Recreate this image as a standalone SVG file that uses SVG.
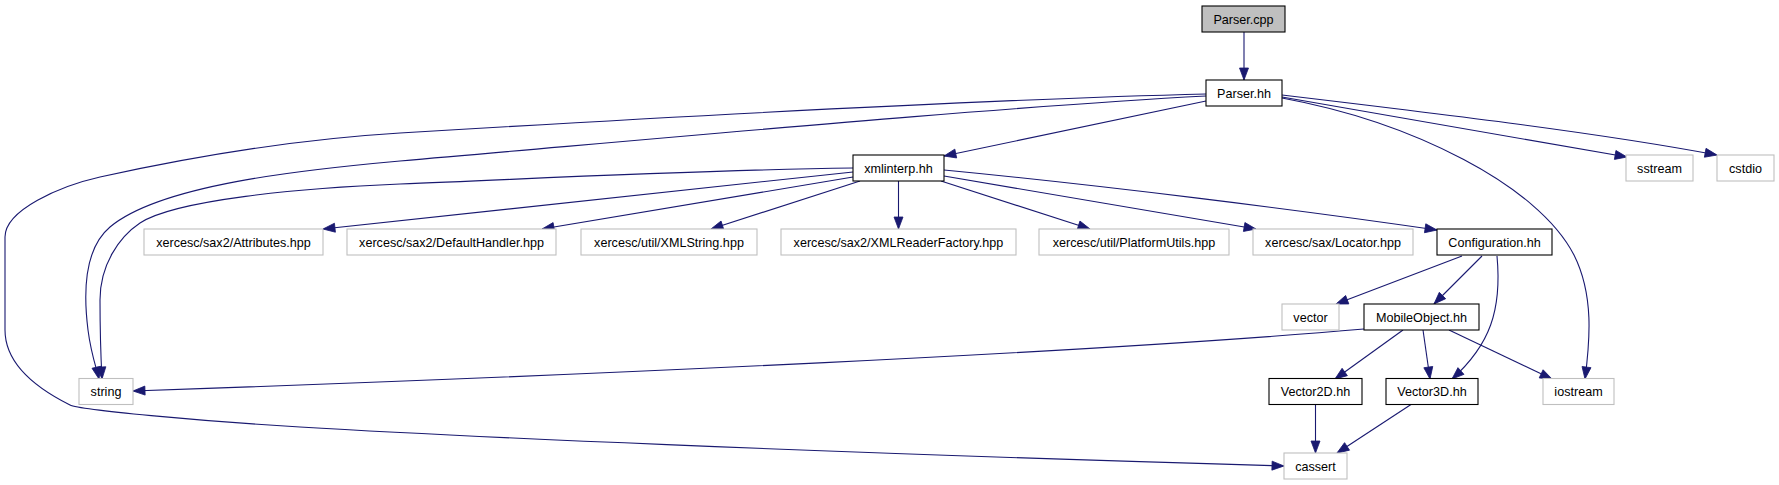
<svg xmlns="http://www.w3.org/2000/svg" width="1779" height="485" viewBox="0 0 1779 485">
<style>
.n rect{fill:#fff;stroke:#000;stroke-width:1.1}
.g rect{fill:#fff;stroke:#bfbfbf;stroke-width:1.1}
.root rect{fill:#bfbfbf;stroke:#000;stroke-width:1.1}
text{font-family:"Liberation Sans",Arial,sans-serif;font-size:12.6px;text-anchor:middle;fill:#000}
#edges path{fill:none;stroke:#191970;stroke-width:1.1;marker-end:url(#ah)}
</style>
<defs>
<marker id="ah" markerWidth="13" markerHeight="10" refX="12" refY="4.5" orient="auto" markerUnits="userSpaceOnUse" overflow="visible">
<path d="M0,0 L12,4.5 L0,9 z" fill="#191970" stroke="#191970" stroke-width="0.8"/>
</marker>
</defs>
<rect width="1779" height="485" fill="#fff"/>
<g id="edges">
<path d="M1244,32 L1244,80"/>
<path d="M1206,101 L944,156"/>
<path d="M1206,96 C1000,107 700,135 400,161 C300,170 160,185 110,227 C85,248 83,290 88,330 C91,354 97,370 99,379"/>
<path d="M1206,94 C1000,99 700,115 400,133 C300,139 200,155 100,177 C60,186 5,210 5,237 L5,330 C5,360 30,385 70,405 C80,410 200,421 300,427 C450,436 800,452 1284,466"/>
<path d="M1282,97 L1627,157"/>
<path d="M1282,95 C1450,115 1600,133 1717,155"/>
<path d="M1282,98 C1412,122 1538,185 1574,255 C1594,295 1590,340 1585,379"/>
<path d="M853,172 L323,229"/>
<path d="M853,177 L542,229"/>
<path d="M860,181 L711,229"/>
<path d="M898.5,181 L898.5,229"/>
<path d="M941,181 L1090,229"/>
<path d="M944,176 L1256,229"/>
<path d="M944,170 C1100,185 1300,210 1437,230"/>
<path d="M853,168 C700,170 550,178 400,184 C300,188 175,200 140,223 C119,237 100,265 100,300 C100,335 101,360 102,379"/>
<path d="M1462,256 L1336,304"/>
<path d="M1482,256 L1434,304"/>
<path d="M1497,256 C1502,310 1490,345 1452,379"/>
<path d="M1364,329 C1100,352 600,375 133,391"/>
<path d="M1403,330 L1335,379"/>
<path d="M1423,330 L1430,379"/>
<path d="M1449,330 L1552,379"/>
<path d="M1315.5,404.5 L1315.5,453"/>
<path d="M1411,404.5 L1337,453"/>
</g>
<g id="n_parser_cpp" class="root"><rect x="1202" y="6" width="83" height="26"/><text x="1243.5" y="23.5">Parser.cpp</text></g>
<g id="n_parser_hh" class="n"><rect x="1206" y="80" width="76" height="26"/><text x="1244" y="97.5">Parser.hh</text></g>
<g id="n_xmlinterp" class="n"><rect x="853" y="155" width="91" height="26"/><text x="898.5" y="172.5">xmlinterp.hh</text></g>
<g id="n_sstream" class="g"><rect x="1626" y="155" width="67" height="26"/><text x="1659.5" y="172.5">sstream</text></g>
<g id="n_cstdio" class="g"><rect x="1717" y="155" width="57" height="26"/><text x="1745.5" y="172.5">cstdio</text></g>
<g id="n_attributes" class="g"><rect x="144" y="229" width="179" height="26"/><text x="233.5" y="246.5">xercesc/sax2/Attributes.hpp</text></g>
<g id="n_defaulthandler" class="g"><rect x="347" y="229" width="209" height="26"/><text x="451.5" y="246.5">xercesc/sax2/DefaultHandler.hpp</text></g>
<g id="n_xmlstring" class="g"><rect x="581" y="229" width="176" height="26"/><text x="669" y="246.5">xercesc/util/XMLString.hpp</text></g>
<g id="n_xmlreaderfactory" class="g"><rect x="781" y="229" width="235" height="26"/><text x="898.5" y="246.5">xercesc/sax2/XMLReaderFactory.hpp</text></g>
<g id="n_platformutils" class="g"><rect x="1039" y="229" width="190" height="26"/><text x="1134" y="246.5">xercesc/util/PlatformUtils.hpp</text></g>
<g id="n_locator" class="g"><rect x="1253" y="229" width="160" height="26"/><text x="1333" y="246.5">xercesc/sax/Locator.hpp</text></g>
<g id="n_configuration" class="n"><rect x="1437" y="229" width="115" height="26"/><text x="1494.5" y="246.5">Configuration.hh</text></g>
<g id="n_vector" class="g"><rect x="1282" y="304" width="57" height="26"/><text x="1310.5" y="321.5">vector</text></g>
<g id="n_mobileobject" class="n"><rect x="1364" y="304" width="115" height="26"/><text x="1421.5" y="321.5">MobileObject.hh</text></g>
<g id="n_string" class="g"><rect x="79" y="378.5" width="54" height="26"/><text x="106" y="396">string</text></g>
<g id="n_vector2d" class="n"><rect x="1269" y="378.5" width="93" height="26"/><text x="1315.5" y="396">Vector2D.hh</text></g>
<g id="n_vector3d" class="n"><rect x="1386" y="378.5" width="92" height="26"/><text x="1432" y="396">Vector3D.hh</text></g>
<g id="n_iostream" class="g"><rect x="1543" y="378.5" width="71" height="26"/><text x="1578.5" y="396">iostream</text></g>
<g id="n_cassert" class="g"><rect x="1284" y="453" width="63" height="26"/><text x="1315.5" y="470.5">cassert</text></g>
</svg>
